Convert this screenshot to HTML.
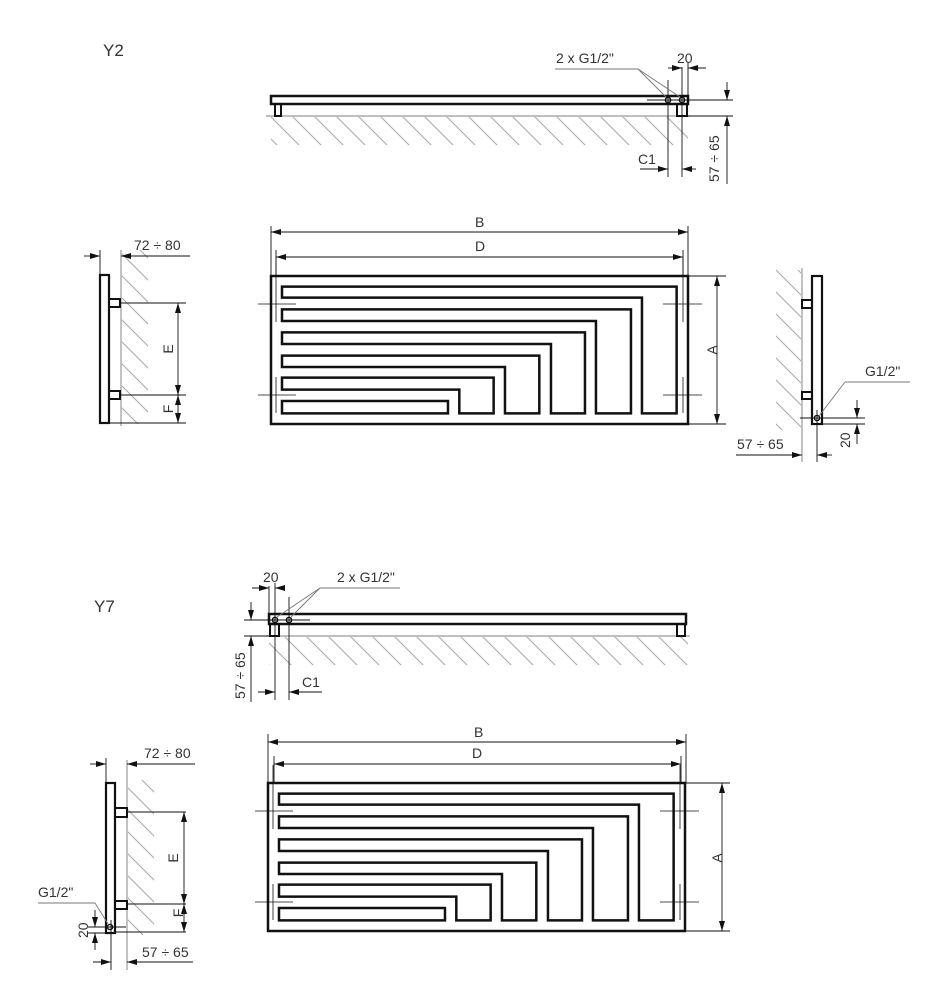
<!DOCTYPE html>
<html><head><meta charset="utf-8"><style>
html,body{margin:0;padding:0;background:#fff;}
svg{display:block;}
text{font-family:"Liberation Sans",sans-serif;fill:#333;font-size:14px;}
</style></head><body>
<svg width="940" height="1002" viewBox="0 0 940 1002" xmlns="http://www.w3.org/2000/svg">
<defs>
<pattern id="h" patternUnits="userSpaceOnUse" width="22" height="22">
<path d="M-2,-2 L24,24 M-2,20 L2,24 M20,-2 L24,2" stroke="#aaa" stroke-width="1.1" fill="none"/>
</pattern>
<marker id="a" viewBox="0 0 10 6" refX="10" refY="3" markerWidth="10" markerHeight="6" orient="auto-start-reverse" markerUnits="userSpaceOnUse">
<path d="M0,0 L10,3 L0,6 z" fill="#111"/>
</marker>
<g id="panel">
<rect x="271" y="276" width="417" height="148" fill="none" stroke="#111" stroke-width="2.5"/>
<g transform="translate(260,260) scale(0.3333)" fill="none" stroke="#111" stroke-width="7.5" stroke-linejoin="miter">
<path d="M66,80 H1250 V460 H1146 V113 H66 Z"/>
<path d="M66,148 H1113 V460 H1008 V183 H66 Z"/>
<path d="M66,217 H975 V460 H873 V252 H66 Z"/>
<path d="M66,287 H838 V460 H735 V321 H66 Z"/>
<path d="M66,353 H701 V460 H598 V389 H66 Z"/>
<path d="M66,423 H564 V460 H66 Z"/>
</g>
<g stroke="#111" stroke-width="0.8">
<line x1="258" y1="304" x2="296" y2="304"/><line x1="258" y1="395" x2="296" y2="395"/>
<line x1="663" y1="304" x2="702" y2="304"/><line x1="663" y1="395" x2="702" y2="395"/>
<line x1="276" y1="258" x2="276" y2="322"/><line x1="276" y1="377" x2="276" y2="413"/>
<line x1="683" y1="258" x2="683" y2="322"/><line x1="683" y1="377" x2="683" y2="413"/>
</g>
</g>
</defs>

<g stroke="#111" stroke-width="0.9" fill="none">
<rect x="271" y="117" width="417" height="28" fill="url(#h)" stroke="none"/>
<line x1="266" y1="116" x2="690" y2="116" stroke="#999" stroke-width="1.2"/>
<rect x="271" y="96" width="417" height="8" stroke-width="2.5"/>
<rect x="275" y="104" width="6" height="12" stroke-width="2"/>
<rect x="677" y="104" width="10" height="12" stroke-width="2"/>
<circle cx="668" cy="100" r="2.6" stroke-width="1.5"/>
<circle cx="682" cy="100" r="2.6" stroke-width="1.5"/>
<line x1="647" y1="100" x2="733" y2="100"/>
<line x1="688" y1="116" x2="733" y2="116"/>
<line x1="668" y1="80" x2="668" y2="177"/>
<line x1="682" y1="67" x2="682" y2="177"/>
<line x1="688" y1="62" x2="688" y2="96"/>
<line x1="555" y1="69" x2="638" y2="69" stroke="#777"/>
<line x1="638" y1="69" x2="666" y2="97" stroke="#777"/>
<line x1="638" y1="69" x2="680" y2="97" stroke="#777"/>
<line x1="668" y1="68" x2="682" y2="68" marker-end="url(#a)"/>
<line x1="706" y1="68" x2="688" y2="68" marker-end="url(#a)"/>
<line x1="640" y1="169" x2="668" y2="169" marker-end="url(#a)"/>
<line x1="696" y1="169" x2="682" y2="169" marker-end="url(#a)"/>
<line x1="727" y1="82" x2="727" y2="100" marker-end="url(#a)"/>
<line x1="727" y1="184" x2="727" y2="116" marker-end="url(#a)"/>

<line x1="271" y1="226" x2="271" y2="276"/><line x1="688" y1="226" x2="688" y2="276"/>
<line x1="276" y1="250" x2="276" y2="276"/><line x1="683" y1="250" x2="683" y2="276"/>
<line x1="271" y1="232" x2="688" y2="232" marker-start="url(#a)" marker-end="url(#a)"/>
<line x1="276" y1="257" x2="683" y2="257" marker-start="url(#a)" marker-end="url(#a)"/>
<line x1="688" y1="276" x2="726" y2="276"/><line x1="688" y1="424" x2="726" y2="424"/>
<line x1="717" y1="276" x2="717" y2="424" marker-start="url(#a)" marker-end="url(#a)"/>

<rect x="122" y="250" width="26" height="174" fill="url(#h)" stroke="none"/>
<line x1="121" y1="250" x2="121" y2="426" stroke="#999" stroke-width="1.2"/>
<rect x="100" y="275" width="9" height="148" stroke-width="2.2"/>
<rect x="109" y="299" width="11" height="8" stroke-width="2"/>
<rect x="109" y="391" width="11" height="8" stroke-width="2"/>
<line x1="100" y1="250" x2="100" y2="275"/>
<line x1="84" y1="256" x2="100" y2="256" marker-end="url(#a)"/>
<line x1="190" y1="256" x2="121" y2="256" marker-end="url(#a)"/>
<line x1="120" y1="303" x2="186" y2="303"/><line x1="120" y1="395" x2="186" y2="395"/><line x1="109" y1="423" x2="186" y2="423"/>
<line x1="178" y1="303" x2="178" y2="395" marker-start="url(#a)" marker-end="url(#a)"/>
<line x1="178" y1="395" x2="178" y2="423" marker-start="url(#a)" marker-end="url(#a)"/>

<rect x="776" y="270" width="25" height="160" fill="url(#h)" stroke="none"/>
<line x1="802" y1="268" x2="802" y2="462" stroke="#999" stroke-width="1.2"/>
<rect x="812" y="276" width="10" height="148" stroke-width="2.2"/>
<rect x="802" y="300" width="10" height="8" stroke-width="2"/>
<rect x="802" y="392" width="10" height="7" stroke-width="2"/>
<circle cx="817" cy="418" r="2.6" stroke-width="1.4"/>
<line x1="817" y1="410" x2="817" y2="462"/>
<line x1="819" y1="416" x2="845" y2="382" stroke="#777"/>
<line x1="845" y1="382" x2="910" y2="382" stroke="#777"/>
<line x1="800" y1="418" x2="865" y2="418"/><line x1="822" y1="424" x2="865" y2="424"/>
<line x1="857" y1="400" x2="857" y2="418" marker-end="url(#a)"/>
<line x1="857" y1="444" x2="857" y2="424" marker-end="url(#a)"/>
<line x1="736" y1="455" x2="802" y2="455" marker-end="url(#a)"/>
<line x1="832" y1="455" x2="817" y2="455" marker-end="url(#a)"/>

<rect x="269" y="637" width="419" height="28" fill="url(#h)" stroke="none"/>
<line x1="266" y1="636" x2="690" y2="636" stroke="#999" stroke-width="1.2"/>
<rect x="269" y="614" width="417" height="10" stroke-width="2.5"/>
<rect x="270" y="624" width="9" height="12" stroke-width="2"/>
<rect x="677" y="624" width="8" height="12" stroke-width="2"/>
<circle cx="275" cy="620" r="2.6" stroke-width="1.5"/>
<circle cx="289" cy="620" r="2.6" stroke-width="1.5"/>
<line x1="244" y1="620" x2="310" y2="620"/>
<line x1="244" y1="636" x2="270" y2="636"/>
<line x1="269" y1="586" x2="269" y2="614"/>
<line x1="275" y1="583" x2="275" y2="700"/>
<line x1="289" y1="597" x2="289" y2="700"/>
<line x1="400" y1="588" x2="320" y2="588" stroke="#777"/>
<line x1="320" y1="588" x2="277" y2="617" stroke="#777"/>
<line x1="320" y1="588" x2="291" y2="617" stroke="#777"/>
<line x1="252" y1="588" x2="269" y2="588" marker-end="url(#a)"/>
<line x1="284" y1="588" x2="275" y2="588" marker-end="url(#a)"/>
<line x1="258" y1="692" x2="275" y2="692" marker-end="url(#a)"/>
<line x1="322" y1="692" x2="289" y2="692" marker-end="url(#a)"/>
<line x1="251" y1="602" x2="251" y2="620" marker-end="url(#a)"/>
<line x1="251" y1="702" x2="251" y2="636" marker-end="url(#a)"/>

<line x1="268" y1="734" x2="268" y2="783"/><line x1="686" y1="734" x2="686" y2="783"/>
<line x1="274" y1="756" x2="274" y2="783"/><line x1="681" y1="756" x2="681" y2="783"/>
<line x1="268" y1="742" x2="686" y2="742" marker-start="url(#a)" marker-end="url(#a)"/>
<line x1="274" y1="764" x2="681" y2="764" marker-start="url(#a)" marker-end="url(#a)"/>
<line x1="686" y1="783" x2="730" y2="783"/><line x1="686" y1="931" x2="730" y2="931"/>
<line x1="722" y1="783" x2="722" y2="931" marker-start="url(#a)" marker-end="url(#a)"/>

<rect x="128" y="780" width="26" height="155" fill="url(#h)" stroke="none"/>
<line x1="127" y1="760" x2="127" y2="970" stroke="#999" stroke-width="1.2"/>
<rect x="106" y="783" width="9" height="150" stroke-width="2.2"/>
<rect x="115" y="808" width="12" height="9" stroke-width="2"/>
<rect x="115" y="901" width="12" height="8" stroke-width="2"/>
<circle cx="110" cy="927" r="2.6" stroke-width="1.4"/>
<line x1="106" y1="758" x2="106" y2="783"/>
<line x1="111" y1="920" x2="111" y2="970"/>
<line x1="90" y1="764" x2="106" y2="764" marker-end="url(#a)"/>
<line x1="195" y1="764" x2="127" y2="764" marker-end="url(#a)"/>
<line x1="127" y1="812" x2="186" y2="812"/><line x1="127" y1="904" x2="186" y2="904"/><line x1="115" y1="932" x2="186" y2="932"/>
<line x1="184" y1="812" x2="184" y2="904" marker-start="url(#a)" marker-end="url(#a)"/>
<line x1="184" y1="904" x2="184" y2="932" marker-start="url(#a)" marker-end="url(#a)"/>
<line x1="108" y1="924" x2="95" y2="903" stroke="#777"/>
<line x1="95" y1="903" x2="38" y2="903" stroke="#777"/>
<line x1="88" y1="927" x2="126" y2="927"/><line x1="88" y1="933" x2="106" y2="933"/>
<line x1="95" y1="910" x2="95" y2="927" marker-end="url(#a)"/>
<line x1="95" y1="950" x2="95" y2="933" marker-end="url(#a)"/>
<line x1="93" y1="962" x2="111" y2="962" marker-end="url(#a)"/>
<line x1="193" y1="962" x2="127" y2="962" marker-end="url(#a)"/>
</g>

<use href="#panel"/>
<use href="#panel" transform="translate(-3,507)"/>

<g>
<text x="103" y="56" style="font-size:17px">Y2</text>
<text x="94" y="612" style="font-size:17px">Y7</text>
<text x="556" y="63">2 x G1/2"</text>
<text x="677" y="63">20</text>
<text x="638" y="164">C1</text>
<text x="719" y="182" transform="rotate(-90 719 182)">57 ÷ 65</text>
<text x="475" y="227">B</text>
<text x="475" y="251">D</text>
<text x="711" y="356" transform="rotate(-90 711 350)" text-anchor="middle">A</text>
<text x="134" y="250">72 ÷ 80</text>
<text x="173" y="349" transform="rotate(-90 173 349)" text-anchor="middle">E</text>
<text x="173" y="409" transform="rotate(-90 173 409)" text-anchor="middle">F</text>
<text x="865" y="376">G1/2"</text>
<text x="737" y="449">57 ÷ 65</text>
<text x="850" y="448" transform="rotate(-90 850 448)">20</text>

<text x="263" y="582">20</text>
<text x="337" y="582">2 x G1/2"</text>
<text x="302" y="687">C1</text>
<text x="245" y="699" transform="rotate(-90 245 699)">57 ÷ 65</text>
<text x="474" y="737">B</text>
<text x="472" y="758">D</text>
<text x="716" y="864" transform="rotate(-90 716 858)" text-anchor="middle">A</text>
<text x="144" y="758">72 ÷ 80</text>
<text x="178" y="858" transform="rotate(-90 178 858)" text-anchor="middle">E</text>
<text x="178" y="918" transform="rotate(-90 178 913)" text-anchor="middle">F</text>
<text x="38" y="897">G1/2"</text>
<text x="88" y="938" transform="rotate(-90 88 938)">20</text>
<text x="142" y="957">57 ÷ 65</text>
</g>
</svg>
</body></html>
